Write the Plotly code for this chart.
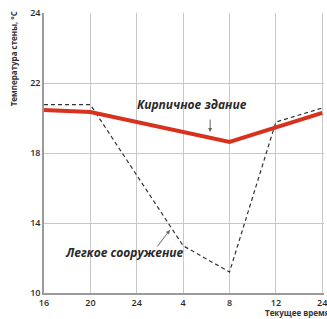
import plotly.graph_objects as go

# --- data ---
tick_hours = [16, 20, 24, 28, 32, 36, 40]
tick_labels = ["16", "20", "24", "4", "8", "12", "24"]
temp_ticks = [10, 14, 18, 22, 26]
temp_tick_labels = ["10", "14", "18", "22", "24"]

brick_hours = [16, 20, 32, 40]
brick_temp = [20.46, 20.34, 18.63, 20.29]

light_hours = [16, 20, 28, 32, 36, 40]
light_temp = [20.76, 20.76, 12.7, 11.2, 19.77, 20.57]

X_MAX = 40.15

fig = go.Figure()
fig.add_trace(go.Scatter(x=light_hours, y=light_temp, mode="lines",
                         line=dict(color="#333333", width=1.2, dash="4px,3px"),
                         hoverinfo="skip", showlegend=False))
fig.add_trace(go.Scatter(x=brick_hours, y=brick_temp, mode="lines",
                         line=dict(color="#d8321f", width=4),
                         hoverinfo="skip", showlegend=False))

txtfont = dict(family="Open Sans", size=12, color="#2a2a2a")
fig.add_annotation(x=28.8, y=20.8, text="<b><i>Кирпичное здание</i></b>", showarrow=False,
                   font=txtfont, xanchor="center", yanchor="middle")
fig.add_annotation(x=30.33, y=19.2, ax=30.33, ay=20.0, axref="x", ayref="y",
                   text="", showarrow=True, arrowhead=2, arrowsize=0.8, arrowwidth=1, arrowcolor="#666")
fig.add_annotation(x=22.96, y=12.29, text="<b><i>Легкое сооружение</i></b>", showarrow=False,
                   font=txtfont, xanchor="center", yanchor="middle")
fig.add_annotation(x=26.86, y=13.6, ax=25.67, ay=12.57, axref="x", ayref="y",
                   text="", showarrow=True, arrowhead=2, arrowsize=0.8, arrowwidth=1, arrowcolor="#666")

smallfont = dict(family="Open Sans", size=8, color="#333333")
fig.add_annotation(xref="paper", yref="paper", x=(265 - 44) / 283, y=(293 - 312) / 280,
                   text="<b>Текущее время, ч</b>", showarrow=False, font=smallfont,
                   xanchor="left", yanchor="middle")
fig.add_annotation(xref="paper", yref="paper", x=(14 - 44) / 283, y=(293 - 59) / 280,
                   text="<b>Температура стены, °С</b>", showarrow=False, font=smallfont,
                   textangle=-90, xanchor="center", yanchor="middle")

tickfont = dict(family="Open Sans", size=9, color="#2a2a2a", weight=600)
fig.update_xaxes(range=[16, X_MAX], tickvals=tick_hours, ticktext=tick_labels,
                 showgrid=True, gridcolor="#c8c8c8", gridwidth=1,
                 showline=True, linecolor="#9a9a9a", linewidth=1.5,
                 tickfont=tickfont, ticks="", zeroline=False, fixedrange=True,
                 ticklabeloverflow="allow")
fig.update_yaxes(range=[10, 26], tickvals=temp_ticks, ticktext=temp_tick_labels,
                 showgrid=True, gridcolor="#c8c8c8", gridwidth=1,
                 showline=True, linecolor="#9a9a9a", linewidth=1.5,
                 tickfont=tickfont, ticks="", zeroline=False, fixedrange=True)
fig.update_layout(width=327, height=319, margin=dict(l=44, r=0, t=13, b=26),
                  plot_bgcolor="white", paper_bgcolor="white", showlegend=False)
fig.write_html("out.html", config={"displayModeBar": False},
               post_script="document.body.style.margin='0';document.body.style.overflow='hidden';")
